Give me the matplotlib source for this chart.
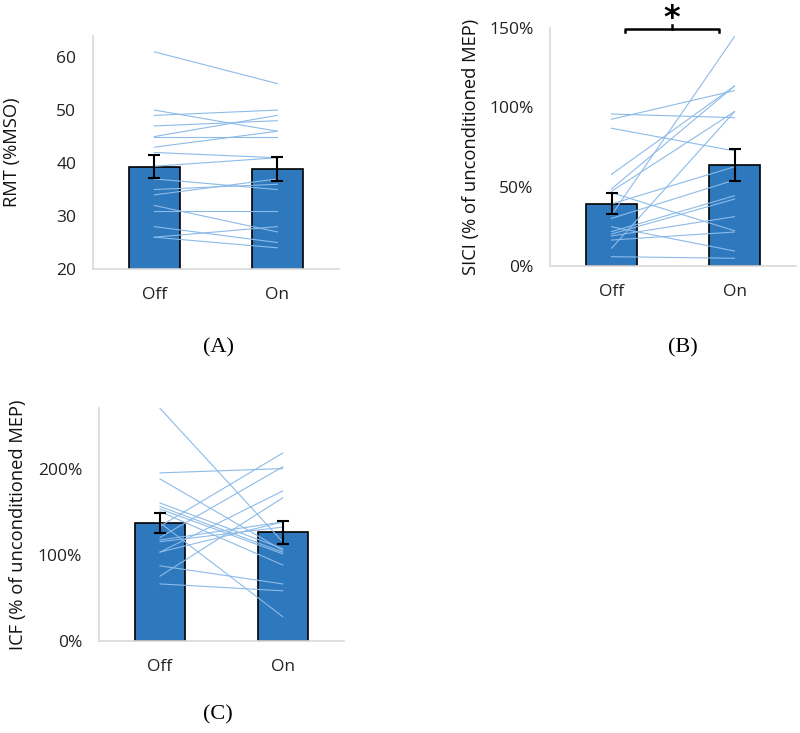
import matplotlib.pyplot as plt
import numpy as np

plt.rcParams['font.family'] = ['Open Sans', 'DejaVu Sans']

conditions = ["Off", "On"]

# (A) RMT, %MSO
rmt_mean = [39.3, 38.8]
rmt_sem = [2.2, 2.25]
rmt_off = [61, 50, 49, 47, 45, 45, 43, 42, 39.4, 37, 35, 34, 32, 31, 28, 26, 26]
rmt_on = [55, 46, 50, 48, 49, 45, 46, 41, 41, 35, 36, 37, 27, 31, 25, 28, 24]

# (B) SICI, % of unconditioned MEP
sici_mean = [39.2, 63.6]
sici_sem = [6.8, 10.2]
sici_off = [95.8, 92.5, 86.8, 57.7, 48.5, 47.0, 46.1, 39.0, 32.0, 29.9, 24.6,
            21.5, 20.0, 18.8, 16.2, 11.0, 5.7]
sici_on = [93.5, 110.6, 72.5, 113.5, 113.5, 97.3, 22.1, 62.5, 144.7, 54.1, 9.3,
           44.2, 42.1, 31.0, 21.3, 97.3, 4.7]

# (C) ICF, % of unconditioned MEP
icf_mean = [136.7, 125.9]
icf_sem = [11.5, 13.5]
icf_off = [270, 195, 188, 160, 156, 153, 150, 137, 133, 120, 117, 115, 103, 103,
           87, 75, 66]
icf_on = [115, 200, 105, 107, 103, 101, 88, 28, 218, 202, 138, 132, 174, 138,
          66, 166, 58]

bar_color = '#2E78BE'
line_color = '#8DBBE8'
axis_grey = '#D9D9D9'


def panel(ax, mean, sem, off, on, ylim, yticks, ylabel, label_x, pct=False):
    x = np.arange(len(conditions))
    ax.bar(x, mean, width=0.41, color=bar_color, edgecolor='black',
           linewidth=1.2, zorder=1)
    for a, b in zip(off, on):
        ax.plot(x, [a, b], color=line_color, lw=0.8, zorder=2)
    ax.errorbar(x, mean, yerr=sem, fmt='none', ecolor='black', elinewidth=1.5,
                capsize=4, capthick=1.5, zorder=3)
    ax.set_xlim(-0.5, 1.5)
    ax.set_ylim(*ylim)
    ax.set_xticks(x)
    ax.set_xticklabels(conditions)
    ax.set_yticks(yticks)
    if pct:
        ax.set_yticklabels([f"{t}%" for t in yticks])
    ax.tick_params(length=0, labelsize=12.5, colors='#222222')
    ax.tick_params(axis='y', pad=12)
    ax.tick_params(axis='x', pad=13)
    for s in ['top', 'right']:
        ax.spines[s].set_visible(False)
    for s in ['left', 'bottom']:
        ax.spines[s].set_color(axis_grey)
        ax.spines[s].set_linewidth(1.2)
    ax.set_ylabel(ylabel, fontsize=13.2, color='#111111')
    ax.yaxis.set_label_coords(label_x, 0.5)


fig = plt.figure(figsize=(8, 7.33), dpi=100)

ax_a = fig.add_axes([0.116, 0.633, 0.3075, 0.318])
panel(ax_a, rmt_mean, rmt_sem, rmt_off, rmt_on, (20, 64), [20, 30, 40, 50, 60],
      "RMT (%MSO)", -0.29)

ax_b = fig.add_axes([0.6875, 0.6375, 0.3075, 0.324])
panel(ax_b, sici_mean, sici_sem, sici_off, sici_on, (0, 150), [0, 50, 100, 150],
      "SICI (% of unconditioned MEP)", -0.285, pct=True)
# significance bracket
ax_b.plot([0.11, 0.11, 0.875, 0.875], [147.4, 149.3, 149.3, 147.4],
          color='black', lw=1.8, clip_on=False, zorder=5)
ax_b.plot([0.49, 0.49], [149.3, 152], color='black', lw=1.8, clip_on=False)
ax_b.text(0.49, 151, "*", ha='center', va='baseline', fontsize=23,
          fontweight='bold', family='DejaVu Sans')

ax_c = fig.add_axes([0.1234, 0.1259, 0.3066, 0.317])
panel(ax_c, icf_mean, icf_sem, icf_off, icf_on, (0, 270), [0, 100, 200],
      "ICF (% of unconditioned MEP)", -0.293, pct=True)

for lbl, (px, py) in zip(["(A)", "(B)", "(C)"],
                         [(218, 348), (683, 348), (218, 715)]):
    fig.text(px / 800, 1 - py / 733, lbl, ha='center', va='center',
             fontsize=16, family='Liberation Serif')

fig.savefig("out.png", dpi=100)
